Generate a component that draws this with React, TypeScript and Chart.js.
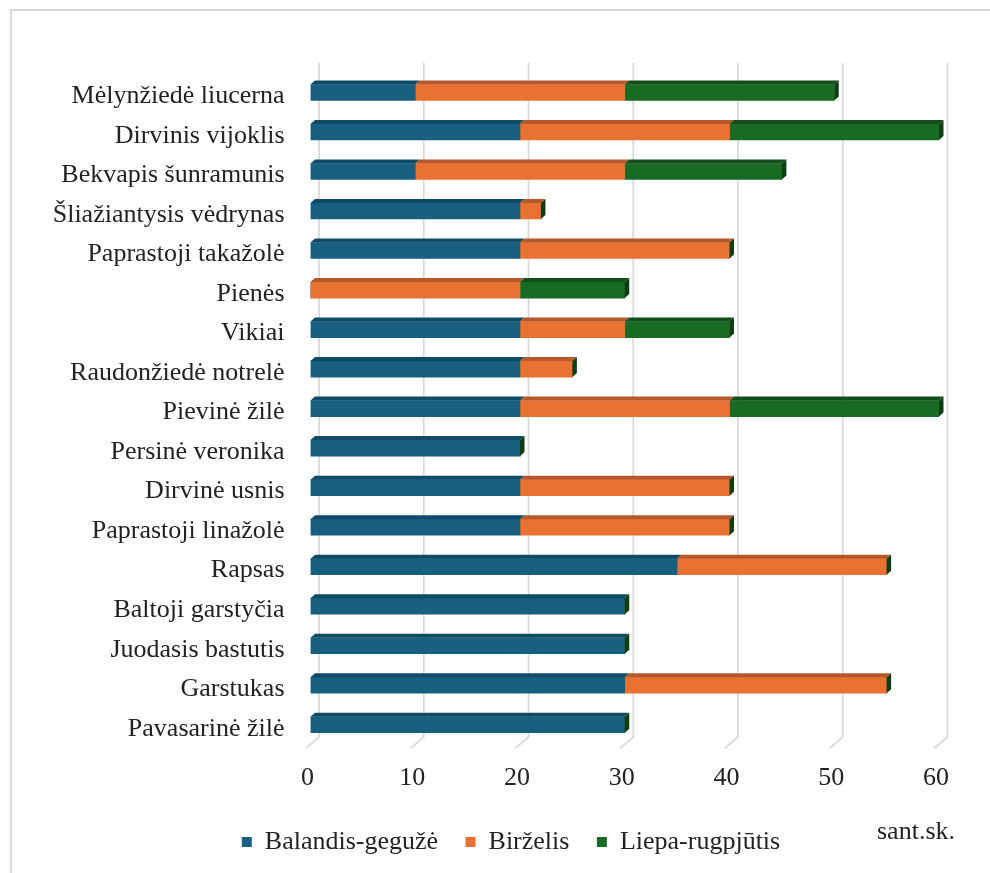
import React, { useEffect, useRef } from "react";
import { Chart, registerables } from "chart.js";

Chart.register(...registerables);

const categories = [
  "Mėlynžiedė liucerna",
  "Dirvinis vijoklis",
  "Bekvapis šunramunis",
  "Šliažiantysis vėdrynas",
  "Paprastoji takažolė",
  "Pienės",
  "Vikiai",
  "Raudonžiedė notrelė",
  "Pievinė žilė",
  "Persinė veronika",
  "Dirvinė usnis",
  "Paprastoji linažolė",
  "Rapsas",
  "Baltoji garstyčia",
  "Juodasis bastutis",
  "Garstukas",
  "Pavasarinė žilė",
];

const seriesNames = ["Balandis-gegužė", "Birželis", "Liepa-rugpjūtis"];

const balandisGeguze = [10, 20, 10, 20, 20, 0, 20, 20, 20, 20, 20, 20, 35, 30, 30, 30, 30];
const birzelis = [20, 20, 20, 2, 20, 20, 10, 5, 20, 0, 20, 20, 20, 0, 0, 25, 0];
const liepaRugpjutis = [20, 20, 15, 0, 0, 10, 10, 0, 20, 0, 0, 0, 0, 0, 0, 0, 0];

const xTicks = [0, 10, 20, 30, 40, 50, 60];
const unitLabel = "sant.sk.";

const frontColors = ["#17607F", "#E97132", "#196B24"];
const topColors = ["#0F4A66", "#B5582A", "#124D1A"];
const sideColor = "#0E3D13";

const FONT = "'Liberation Serif', 'Times New Roman', serif";

const DX = 4.5;
const DY = -4;

const frame3dPlugin = {
  id: "frame3d",
  beforeDraw(chart: any) {
    const ctx = chart.ctx;
    ctx.save();
    ctx.fillStyle = "#ffffff";
    ctx.fillRect(0, 0, chart.width, chart.height);
    ctx.strokeStyle = "#d9d9d9";
    ctx.lineWidth = 2;
    ctx.beginPath();
    ctx.moveTo(11, chart.height + 5);
    ctx.lineTo(11, 10);
    ctx.lineTo(chart.width + 5, 10);
    ctx.stroke();
    ctx.restore();
  },
  beforeDatasetsDraw(chart: any) {
    const ctx = chart.ctx;
    const xs = chart.scales.x;
    const area = chart.chartArea;
    ctx.save();
    ctx.strokeStyle = "#d9d9d9";
    ctx.lineWidth = 1.75;
    xTicks.forEach((v) => {
      const px = xs.getPixelForValue(v);
      ctx.beginPath();
      ctx.moveTo(px + 8.5, area.top - 9.7);
      ctx.lineTo(px + 8.5, area.bottom - 7.5);
      ctx.lineTo(px - 4.8, area.bottom + 3.8);
      ctx.stroke();
    });
    ctx.restore();
  },
  afterDatasetsDraw(chart: any) {
    const ctx = chart.ctx;
    const n = chart.data.datasets.length;
    ctx.save();
    for (let d = 0; d < n; d++) {
      const meta = chart.getDatasetMeta(d);
      meta.data.forEach((el: any) => {
        const p = el.getProps(["x", "y", "base", "height"], true);
        const left = Math.min(p.base, p.x);
        const right = Math.max(p.base, p.x);
        const top = p.y - p.height / 2;
        const bottom = p.y + p.height / 2;
        if (right - left > 0.01) {
          ctx.fillStyle = topColors[d];
          ctx.beginPath();
          ctx.moveTo(left, top);
          ctx.lineTo(left + DX, top + DY);
          ctx.lineTo(right + DX, top + DY);
          ctx.lineTo(right, top);
          ctx.closePath();
          ctx.fill();
        }
        if (d === n - 1) {
          ctx.fillStyle = sideColor;
          ctx.beginPath();
          ctx.moveTo(right, top);
          ctx.lineTo(right + DX, top + DY);
          ctx.lineTo(right + DX, bottom + DY);
          ctx.lineTo(right, bottom);
          ctx.closePath();
          ctx.fill();
        }
      });
    }
    ctx.restore();
  },
  afterDraw(chart: any) {
    const ctx = chart.ctx;
    ctx.save();
    ctx.font = "26px " + FONT;
    ctx.fillStyle = "#222222";
    ctx.textAlign = "right";
    ctx.textBaseline = "middle";
    ctx.fillText(unitLabel, 955, 832);
    ctx.restore();
  },
};

export default function App() {
  const canvasRef = useRef<HTMLCanvasElement | null>(null);

  useEffect(() => {
    if (!canvasRef.current) return;
    const series = [balandisGeguze, birzelis, liepaRugpjutis];
    const chart = new Chart(canvasRef.current, {
      type: "bar",
      data: {
        labels: categories,
        datasets: series.map((vals, i) => ({
          label: seriesNames[i],
          data: vals,
          backgroundColor: frontColors[i],
          borderWidth: 0,
          barThickness: 16,
        })),
      },
      options: {
        indexAxis: "y",
        responsive: false,
        animation: false,
        layout: { padding: { top: 72.7, left: 40, right: 8, bottom: 8 } },
        scales: {
          x: {
            stacked: true,
            min: 0,
            max: 60,
            afterFit(scale: any) {
              scale.height = 57;
            },
            ticks: {
              stepSize: 10,
              padding: 18,
              labelOffset: -3,
              color: "#222222",
              font: { family: FONT, size: 26 },
            },
            grid: { display: false, drawTicks: false },
            border: { display: false },
          },
          y: {
            stacked: true,
            afterFit(scale: any) {
              scale.width = 270.5;
            },
            ticks: {
              padding: 26,
              labelOffset: 4,
              color: "#222222",
              font: { family: FONT, size: 26 },
            },
            grid: { display: false, drawTicks: false },
            border: { display: false },
          },
          yRight: {
            type: "category",
            position: "right",
            afterFit(scale: any) {
              scale.width = 43;
            },
            ticks: { display: false },
            grid: { display: false, drawTicks: false },
            border: { display: false },
          },
        },
        plugins: {
          legend: {
            position: "bottom",
            labels: {
              boxWidth: 10,
              boxHeight: 10,
              padding: 27.5,
              color: "#222222",
              font: { family: FONT, size: 26 },
            },
          },
          tooltip: { enabled: false },
        },
      },
      plugins: [frame3dPlugin],
    });
    return () => chart.destroy();
  }, []);

  return (
    <div style={{ position: "absolute", left: 0, top: 0, width: 990, height: 873, background: "#fff" }}>
      <canvas ref={canvasRef} width={990} height={873} style={{ display: "block" }} />
    </div>
  );
}
